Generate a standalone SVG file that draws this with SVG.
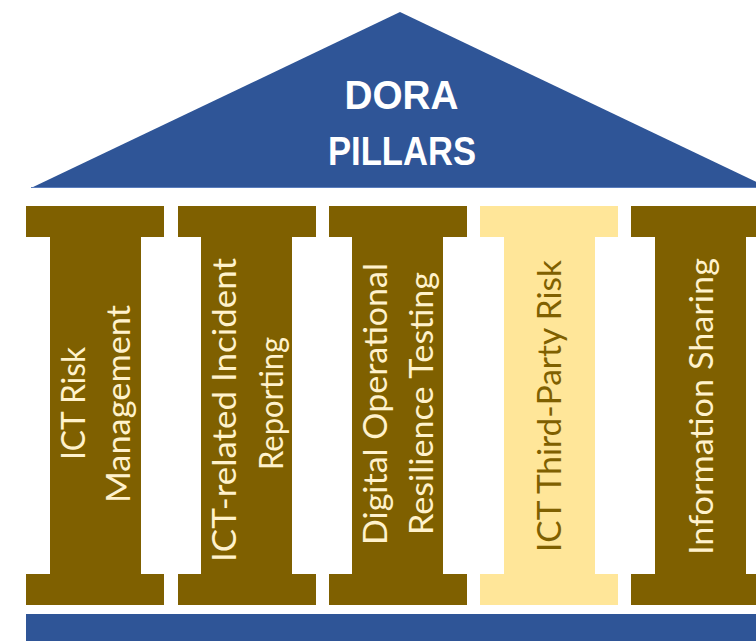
<svg xmlns="http://www.w3.org/2000/svg" width="756" height="641" viewBox="0 0 756 641">
  <style>
    .roof { fill: #2F5597; }
    .title { font-family: "Liberation Sans", Arial, sans-serif; font-weight: bold; font-size: 40px; fill: #FFFFFF; text-anchor: middle; }
    .pillar-dark { fill: #7F6000; }
    .pillar-light { fill: #FFE699; }
    .label { font-family: Lato, "Liberation Sans", sans-serif; font-size: 33px; text-anchor: middle; }
    .on-dark { fill: #FFF2CC; }
    .on-light { fill: #7F6000; }
  </style>

  <!-- Roof -->
  <g id="roof">
    <polygon class="roof" points="400,12 769,188 31,188"/>
    <line x1="31" y1="187.5" x2="756" y2="187.5" stroke="#5A7DBD" stroke-width="1"/>
    <text class="title" x="401.5" y="108.5" textLength="114" lengthAdjust="spacingAndGlyphs">DORA</text>
    <text class="title" x="402" y="164.5" textLength="148" lengthAdjust="spacingAndGlyphs">PILLARS</text>
  </g>

  <!-- Pillar 1 -->
  <g id="pillar-ict-risk-management">
    <polygon class="pillar-dark" points="26,206 164,206 164,237 141,237 141,574 164,574 164,605 26,605 26,574 50,574 50,237 26,237"/>
    <text class="label on-dark" transform="translate(85,403.5) rotate(-90)" textLength="113" lengthAdjust="spacingAndGlyphs">ICT Risk</text>
    <text class="label on-dark" transform="translate(129.5,404) rotate(-90)" textLength="198" lengthAdjust="spacingAndGlyphs">Management</text>
  </g>

  <!-- Pillar 2 -->
  <g id="pillar-incident-reporting">
    <polygon class="pillar-dark" points="178,206 316,206 316,237 292,237 292,574 316,574 316,605 178,605 178,574 201,574 201,237 178,237"/>
    <text class="label on-dark" transform="translate(235.7,410) rotate(-90)" textLength="304" lengthAdjust="spacingAndGlyphs">ICT-related Incident</text>
    <text class="label on-dark" transform="translate(283,403.5) rotate(-90)" textLength="133" lengthAdjust="spacingAndGlyphs">Reporting</text>
  </g>

  <!-- Pillar 3 -->
  <g id="pillar-resilience-testing">
    <polygon class="pillar-dark" points="329,206 467,206 467,237 443,237 443,574 467,574 467,605 329,605 329,574 352,574 352,237 329,237"/>
    <text class="label on-dark" transform="translate(386.7,404) rotate(-90)" textLength="282" lengthAdjust="spacingAndGlyphs">Digital Operational</text>
    <text class="label on-dark" transform="translate(432.7,403.5) rotate(-90)" textLength="263" lengthAdjust="spacingAndGlyphs">Resilience Testing</text>
  </g>

  <!-- Pillar 4 -->
  <g id="pillar-third-party-risk">
    <polygon class="pillar-light" points="480,206 618,206 618,237 595,237 595,574 618,574 618,605 480,605 480,574 504,574 504,237 480,237"/>
    <text class="label on-light" transform="translate(560.7,406) rotate(-90)" textLength="292" lengthAdjust="spacingAndGlyphs">ICT Third-Party Risk</text>
  </g>

  <!-- Pillar 5 -->
  <g id="pillar-information-sharing">
    <polygon class="pillar-dark" points="631,206 769,206 769,237 746,237 746,574 769,574 769,605 631,605 631,574 655,574 655,237 631,237"/>
    <text class="label on-dark" transform="translate(712.7,406.5) rotate(-90)" textLength="297" lengthAdjust="spacingAndGlyphs">Information Sharing</text>
  </g>

  <!-- Foundation -->
  <g id="foundation">
    <rect class="roof" x="26" y="614" width="740" height="30"/>
  </g>
</svg>
